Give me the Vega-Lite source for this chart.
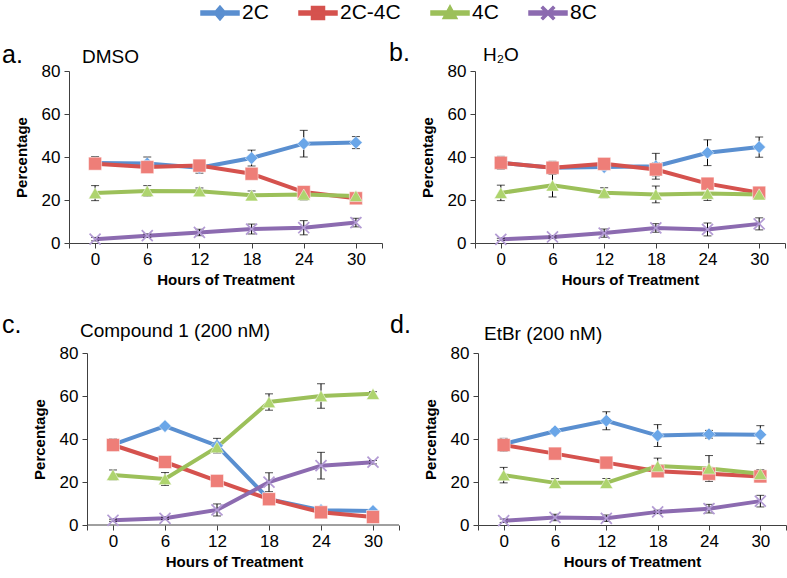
{
  "$schema": "https://vega.github.io/schema/vega-lite/v6.json",
  "background": "white",
  "padding": {"left": 2, "top": 2, "right": 2, "bottom": 2},
  "config": {
    "view": {"stroke": null},
    "font": "Liberation Sans",
    "axis": {
      "grid": false,
      "domainColor": "#404040",
      "tickColor": "#404040",
      "tickSize": 5,
      "labelFont": "Liberation Sans",
      "labelFontSize": 17,
      "labelColor": "#000000",
      "titleFont": "Liberation Sans",
      "titleFontSize": 15,
      "titleFontWeight": "bold",
      "titleColor": "#000000"
    },
    "axisX": {"titlePadding": 5, "labelPadding": 3},
    "axisY": {"titlePadding": 12, "labelPadding": 4}
  },
  "datasets": {
    "cells": [
      {"panel": "a", "series": "2C", "hour": 0, "value": 37.2, "err": 3},
      {"panel": "a", "series": "2C", "hour": 6, "value": 37.0, "err": 3},
      {"panel": "a", "series": "2C", "hour": 12, "value": 35.0, "err": 2.5},
      {"panel": "a", "series": "2C", "hour": 18, "value": 39.5, "err": 3.7},
      {"panel": "a", "series": "2C", "hour": 24, "value": 46.2, "err": 6.2},
      {"panel": "a", "series": "2C", "hour": 30, "value": 46.7, "err": 2.8},
      {"panel": "a", "series": "2C-4C", "hour": 0, "value": 36.9, "err": 2},
      {"panel": "a", "series": "2C-4C", "hour": 6, "value": 35.3, "err": 1.5},
      {"panel": "a", "series": "2C-4C", "hour": 12, "value": 36.0, "err": 2},
      {"panel": "a", "series": "2C-4C", "hour": 18, "value": 32.2, "err": 1.5},
      {"panel": "a", "series": "2C-4C", "hour": 24, "value": 23.7, "err": 1.5},
      {"panel": "a", "series": "2C-4C", "hour": 30, "value": 20.8, "err": 1.5},
      {"panel": "a", "series": "4C", "hour": 0, "value": 23.2, "err": 3.5},
      {"panel": "a", "series": "4C", "hour": 6, "value": 24.2, "err": 2.5},
      {"panel": "a", "series": "4C", "hour": 12, "value": 24.1, "err": 1.5},
      {"panel": "a", "series": "4C", "hour": 18, "value": 22.2, "err": 2},
      {"panel": "a", "series": "4C", "hour": 24, "value": 22.5, "err": 2.5},
      {"panel": "a", "series": "4C", "hour": 30, "value": 21.9, "err": 1.5},
      {"panel": "a", "series": "8C", "hour": 0, "value": 1.8, "err": 0.8},
      {"panel": "a", "series": "8C", "hour": 6, "value": 3.4, "err": 0.8},
      {"panel": "a", "series": "8C", "hour": 12, "value": 4.9, "err": 1.5},
      {"panel": "a", "series": "8C", "hour": 18, "value": 6.5, "err": 2.3},
      {"panel": "a", "series": "8C", "hour": 24, "value": 7.1, "err": 3.3},
      {"panel": "a", "series": "8C", "hour": 30, "value": 9.5, "err": 2},
      {"panel": "b", "series": "2C", "hour": 0, "value": 37.3, "err": 3},
      {"panel": "b", "series": "2C", "hour": 6, "value": 35.0, "err": 3},
      {"panel": "b", "series": "2C", "hour": 12, "value": 35.3, "err": 1},
      {"panel": "b", "series": "2C", "hour": 18, "value": 35.7, "err": 6},
      {"panel": "b", "series": "2C", "hour": 24, "value": 42.0, "err": 6},
      {"panel": "b", "series": "2C", "hour": 30, "value": 44.6, "err": 4.7},
      {"panel": "b", "series": "2C-4C", "hour": 0, "value": 37.3, "err": 2},
      {"panel": "b", "series": "2C-4C", "hour": 6, "value": 35.0, "err": 2},
      {"panel": "b", "series": "2C-4C", "hour": 12, "value": 36.8, "err": 1.5},
      {"panel": "b", "series": "2C-4C", "hour": 18, "value": 34.2, "err": 3},
      {"panel": "b", "series": "2C-4C", "hour": 24, "value": 27.6, "err": 1.5},
      {"panel": "b", "series": "2C-4C", "hour": 30, "value": 23.4, "err": 1},
      {"panel": "b", "series": "4C", "hour": 0, "value": 23.3, "err": 3.6},
      {"panel": "b", "series": "4C", "hour": 6, "value": 26.8, "err": 5.4},
      {"panel": "b", "series": "4C", "hour": 12, "value": 23.4, "err": 2.3},
      {"panel": "b", "series": "4C", "hour": 18, "value": 22.6, "err": 3.9},
      {"panel": "b", "series": "4C", "hour": 24, "value": 23.0, "err": 3.2},
      {"panel": "b", "series": "4C", "hour": 30, "value": 22.6, "err": 1},
      {"panel": "b", "series": "8C", "hour": 0, "value": 1.7, "err": 0.5},
      {"panel": "b", "series": "8C", "hour": 6, "value": 2.8, "err": 0.5},
      {"panel": "b", "series": "8C", "hour": 12, "value": 4.6, "err": 1.9},
      {"panel": "b", "series": "8C", "hour": 18, "value": 7.0, "err": 2},
      {"panel": "b", "series": "8C", "hour": 24, "value": 6.3, "err": 3},
      {"panel": "b", "series": "8C", "hour": 30, "value": 8.9, "err": 2.8},
      {"panel": "c", "series": "2C", "hour": 0, "value": 37.4, "err": 2.8},
      {"panel": "c", "series": "2C", "hour": 6, "value": 46.0, "err": 0.8},
      {"panel": "c", "series": "2C", "hour": 12, "value": 36.9, "err": 3.4},
      {"panel": "c", "series": "2C", "hour": 18, "value": 12.0, "err": 1},
      {"panel": "c", "series": "2C", "hour": 24, "value": 6.9, "err": 1},
      {"panel": "c", "series": "2C", "hour": 30, "value": 6.5, "err": 0.5},
      {"panel": "c", "series": "2C-4C", "hour": 0, "value": 37.2, "err": 2},
      {"panel": "c", "series": "2C-4C", "hour": 6, "value": 29.3, "err": 1.5},
      {"panel": "c", "series": "2C-4C", "hour": 12, "value": 20.5, "err": 1},
      {"panel": "c", "series": "2C-4C", "hour": 18, "value": 12.0, "err": 1},
      {"panel": "c", "series": "2C-4C", "hour": 24, "value": 5.9, "err": 1},
      {"panel": "c", "series": "2C-4C", "hour": 30, "value": 3.7, "err": 0.5},
      {"panel": "c", "series": "4C", "hour": 0, "value": 23.3, "err": 2.3},
      {"panel": "c", "series": "4C", "hour": 6, "value": 21.4, "err": 3},
      {"panel": "c", "series": "4C", "hour": 12, "value": 36.2, "err": 2},
      {"panel": "c", "series": "4C", "hour": 18, "value": 57.2, "err": 3.8},
      {"panel": "c", "series": "4C", "hour": 24, "value": 60.0, "err": 5.7},
      {"panel": "c", "series": "4C", "hour": 30, "value": 61.0, "err": 1},
      {"panel": "c", "series": "8C", "hour": 0, "value": 2.2, "err": 0.5},
      {"panel": "c", "series": "8C", "hour": 6, "value": 3.1, "err": 0.5},
      {"panel": "c", "series": "8C", "hour": 12, "value": 7.0, "err": 2.8},
      {"panel": "c", "series": "8C", "hour": 18, "value": 19.9, "err": 4.4},
      {"panel": "c", "series": "8C", "hour": 24, "value": 27.6, "err": 6.2},
      {"panel": "c", "series": "8C", "hour": 30, "value": 29.2, "err": 0.8},
      {"panel": "d", "series": "2C", "hour": 0, "value": 37.7, "err": 2.6},
      {"panel": "d", "series": "2C", "hour": 6, "value": 43.6, "err": 1},
      {"panel": "d", "series": "2C", "hour": 12, "value": 48.5, "err": 4.2},
      {"panel": "d", "series": "2C", "hour": 18, "value": 41.6, "err": 5.1},
      {"panel": "d", "series": "2C", "hour": 24, "value": 42.2, "err": 1.8},
      {"panel": "d", "series": "2C", "hour": 30, "value": 42.0, "err": 4.2},
      {"panel": "d", "series": "2C-4C", "hour": 0, "value": 37.2, "err": 3},
      {"panel": "d", "series": "2C-4C", "hour": 6, "value": 33.2, "err": 2.3},
      {"panel": "d", "series": "2C-4C", "hour": 12, "value": 29.0, "err": 1.5},
      {"panel": "d", "series": "2C-4C", "hour": 18, "value": 25.0, "err": 1},
      {"panel": "d", "series": "2C-4C", "hour": 24, "value": 23.8, "err": 2.5},
      {"panel": "d", "series": "2C-4C", "hour": 30, "value": 22.6, "err": 2.5},
      {"panel": "d", "series": "4C", "hour": 0, "value": 23.2, "err": 3.6},
      {"panel": "d", "series": "4C", "hour": 6, "value": 19.6, "err": 2},
      {"panel": "d", "series": "4C", "hour": 12, "value": 19.6, "err": 2},
      {"panel": "d", "series": "4C", "hour": 18, "value": 27.4, "err": 3.7},
      {"panel": "d", "series": "4C", "hour": 24, "value": 26.3, "err": 6},
      {"panel": "d", "series": "4C", "hour": 30, "value": 23.8, "err": 2},
      {"panel": "d", "series": "8C", "hour": 0, "value": 2.0, "err": 0.8},
      {"panel": "d", "series": "8C", "hour": 6, "value": 3.5, "err": 1.5},
      {"panel": "d", "series": "8C", "hour": 12, "value": 3.1, "err": 1.5},
      {"panel": "d", "series": "8C", "hour": 18, "value": 6.1, "err": 0.8},
      {"panel": "d", "series": "8C", "hour": 24, "value": 7.6, "err": 2},
      {"panel": "d", "series": "8C", "hour": 30, "value": 11.1, "err": 2.7}
    ]
  },
  "vconcat": [
    {
      "hconcat": [
        {
          "width": 313, "height": 172,
          "data": {"name": "cells"},
          "transform": [{"filter": "datum.panel === 'a'"}],
          "encoding": {
            "x": {"field": "hour", "type": "quantitative", "scale": {"domain": [-3, 33], "nice": false, "zero": false},
                  "axis": {"title": "Hours of Treatment", "values": [-3, 0, 6, 12, 18, 24, 30, 33], "labelExpr": "datum.value < 0 || datum.value > 30 ? '' : datum.label"}},
            "y": {"field": "value", "type": "quantitative", "scale": {"domain": [0, 80], "nice": false}, "axis": {"title": "Percentage", "values": [0, 20, 40, 60, 80]}}
          },
          "layer": [
            {"mark": {"type": "line", "strokeWidth": 4}, "encoding": {"color": {"field": "series", "type": "nominal",
              "scale": {"domain": ["2C", "2C-4C", "4C", "8C"], "range": ["#5A8FD0", "#D5524E", "#9CC05A", "#8C6BB0"]},
              "legend": {"orient": "none", "legendX": 131, "legendY": -69, "direction": "horizontal", "title": null,
                "labelFontSize": 21, "labelFont": "Liberation Sans", "labelColor": "#000000", "symbolSize": 400, "labelOffset": 20, "columnPadding": 27, "symbolOpacity": 1}}}},
            {"mark": {"type": "errorbar", "ticks": {"size": 8, "color": "#000000"}, "rule": {"color": "#000000", "strokeWidth": 1}}, "encoding": {"yError": {"field": "err"}}},
            {"transform": [{"filter": "datum.series === '2C'"}], "mark": {"type": "point", "shape": "diamond", "filled": true, "size": 160, "fill": "#6AA6E8", "opacity": 1, "stroke": "#ffffff", "strokeOpacity": 0.5, "strokeWidth": 1}},
            {"transform": [{"filter": "datum.series === '2C-4C'"}], "mark": {"type": "point", "shape": "square", "filled": true, "size": 170, "fill": "#EE7E78", "opacity": 1, "stroke": "#ffffff", "strokeOpacity": 0.5, "strokeWidth": 1}},
            {"transform": [{"filter": "datum.series === '4C'"}], "mark": {"type": "point", "shape": "triangle-up", "filled": true, "size": 170, "fill": "#AED46E", "opacity": 1, "stroke": "#ffffff", "strokeOpacity": 0.5, "strokeWidth": 1}},
            {"transform": [{"filter": "datum.series === '8C'"}], "mark": {"type": "point", "shape": "M-1,-0.8L-0.8,-1L0,-0.2L0.8,-1L1,-0.8L0.2,0L1,0.8L0.8,1L0,0.2L-0.8,1L-1,0.8L-0.2,0Z", "filled": true, "size": 150, "fill": "#B39BD4", "opacity": 1}},
            {"transform": [{"filter": "datum.hour === 0"}], "mark": {"type": "point", "filled": true, "opacity": 0},
             "encoding": {
               "shape": {"field": "series", "type": "nominal",
                 "scale": {"domain": ["2C", "2C-4C", "4C", "8C"], "range": [
                   "M-1,-0.2H2.8V0.2H-1Z M0.9,-0.7L1.5,0L0.9,0.7L0.3,0Z",
                   "M-1,-0.2H2.8V0.2H-1Z M0.25,-0.65H1.55V0.65H0.25Z",
                   "M-1,-0.2H2.8V0.2H-1Z M0.9,-0.75L1.6,0.55H0.2Z",
                   "M-1,-0.2H2.8V0.2H-1Z M0.25,-0.5L0.4,-0.65L0.9,-0.15L1.4,-0.65L1.55,-0.5L1.05,0L1.55,0.5L1.4,0.65L0.9,0.15L0.4,0.65L0.25,0.5L0.75,0Z"]},
                 "legend": null},
               "fill": {"field": "series", "type": "nominal",
                 "scale": {"domain": ["2C", "2C-4C", "4C", "8C"], "range": ["#5A8FD0", "#D5524E", "#9CC05A", "#8C6BB0"]},
                 "legend": null}
             }},
            {"transform": [{"filter": "datum.series === '2C' && datum.hour === 0"}], "mark": {"type": "text", "align": "left", "baseline": "alphabetic", "fontSize": 25, "dx": -67, "dy": -8, "clip": false, "color": "#000000"},
             "encoding": {"x": {"datum": -3}, "y": {"datum": 80}, "text": {"value": "a."}}},
            {"transform": [{"filter": "datum.series === '2C' && datum.hour === 0"}], "mark": {"type": "text", "align": "left", "baseline": "alphabetic", "fontSize": 19, "dx": 13, "dy": -8, "clip": false, "color": "#000000"},
             "encoding": {"x": {"datum": -3}, "y": {"datum": 80}, "text": {"value": "DMSO"}}}
          ]
        },
        {
          "width": 310, "height": 172,
          "data": {"name": "cells"},
          "transform": [{"filter": "datum.panel === 'b'"}],
          "encoding": {
            "x": {"field": "hour", "type": "quantitative", "scale": {"domain": [-3, 33], "nice": false, "zero": false},
                  "axis": {"title": "Hours of Treatment", "values": [-3, 0, 6, 12, 18, 24, 30, 33], "labelExpr": "datum.value < 0 || datum.value > 30 ? '' : datum.label"}},
            "y": {"field": "value", "type": "quantitative", "scale": {"domain": [0, 80], "nice": false}, "axis": {"title": "Percentage", "values": [0, 20, 40, 60, 80]}}
          },
          "layer": [
            {"mark": {"type": "line", "strokeWidth": 4}, "encoding": {"color": {"field": "series", "type": "nominal"}}},
            {"mark": {"type": "errorbar", "ticks": {"size": 8, "color": "#000000"}, "rule": {"color": "#000000", "strokeWidth": 1}}, "encoding": {"yError": {"field": "err"}}},
            {"transform": [{"filter": "datum.series === '2C'"}], "mark": {"type": "point", "shape": "diamond", "filled": true, "size": 160, "fill": "#6AA6E8", "opacity": 1, "stroke": "#ffffff", "strokeOpacity": 0.5, "strokeWidth": 1}},
            {"transform": [{"filter": "datum.series === '2C-4C'"}], "mark": {"type": "point", "shape": "square", "filled": true, "size": 170, "fill": "#EE7E78", "opacity": 1, "stroke": "#ffffff", "strokeOpacity": 0.5, "strokeWidth": 1}},
            {"transform": [{"filter": "datum.series === '4C'"}], "mark": {"type": "point", "shape": "triangle-up", "filled": true, "size": 170, "fill": "#AED46E", "opacity": 1, "stroke": "#ffffff", "strokeOpacity": 0.5, "strokeWidth": 1}},
            {"transform": [{"filter": "datum.series === '8C'"}], "mark": {"type": "point", "shape": "M-1,-0.8L-0.8,-1L0,-0.2L0.8,-1L1,-0.8L0.2,0L1,0.8L0.8,1L0,0.2L-0.8,1L-1,0.8L-0.2,0Z", "filled": true, "size": 150, "fill": "#B39BD4", "opacity": 1}},
            {"transform": [{"filter": "datum.series === '2C' && datum.hour === 0"}], "mark": {"type": "text", "align": "left", "baseline": "alphabetic", "fontSize": 25, "dx": -86, "dy": -10, "clip": false, "color": "#000000"},
             "encoding": {"x": {"datum": -3}, "y": {"datum": 80}, "text": {"value": "b."}}},
            {"transform": [{"filter": "datum.series === '2C' && datum.hour === 0"}], "mark": {"type": "text", "align": "left", "baseline": "alphabetic", "fontSize": 19, "dx": 8, "dy": -10, "clip": false, "color": "#000000"},
             "encoding": {"x": {"datum": -3}, "y": {"datum": 80}, "text": {"value": "H₂O"}}}
          ]
        }
      ],
      "spacing": 6,
      "align": "none"
    },
    {
      "hconcat": [
        {
          "width": 330, "height": 172,
          "data": {"name": "cells"},
          "transform": [{"filter": "datum.panel === 'c'"}],
          "encoding": {
            "x": {"field": "hour", "type": "quantitative", "scale": {"domain": [-5.077, 33], "nice": false, "zero": false},
                  "axis": {"title": "Hours of Treatment", "domain": false, "values": [-3, 0, 6, 12, 18, 24, 30, 33], "labelExpr": "datum.value < 0 || datum.value > 30 ? '' : datum.label"}},
            "y": {"field": "value", "type": "quantitative", "scale": {"domain": [0, 80], "nice": false}, "axis": {"title": "Percentage", "offset": -18, "values": [0, 20, 40, 60, 80]}}
          },
          "layer": [
            {"transform": [{"filter": "datum.series === '2C' && datum.hour === 0"}], "mark": {"type": "rule", "color": "#404040", "strokeWidth": 1},
             "encoding": {"x": {"datum": -3}, "x2": {"datum": 33}, "y": {"datum": 0}}},
            {"mark": {"type": "line", "strokeWidth": 4}, "encoding": {"color": {"field": "series", "type": "nominal"}}},
            {"mark": {"type": "errorbar", "ticks": {"size": 8, "color": "#000000"}, "rule": {"color": "#000000", "strokeWidth": 1}}, "encoding": {"yError": {"field": "err"}}},
            {"transform": [{"filter": "datum.series === '2C'"}], "mark": {"type": "point", "shape": "diamond", "filled": true, "size": 160, "fill": "#6AA6E8", "opacity": 1, "stroke": "#ffffff", "strokeOpacity": 0.5, "strokeWidth": 1}},
            {"transform": [{"filter": "datum.series === '2C-4C'"}], "mark": {"type": "point", "shape": "square", "filled": true, "size": 170, "fill": "#EE7E78", "opacity": 1, "stroke": "#ffffff", "strokeOpacity": 0.5, "strokeWidth": 1}},
            {"transform": [{"filter": "datum.series === '4C'"}], "mark": {"type": "point", "shape": "triangle-up", "filled": true, "size": 170, "fill": "#AED46E", "opacity": 1, "stroke": "#ffffff", "strokeOpacity": 0.5, "strokeWidth": 1}},
            {"transform": [{"filter": "datum.series === '8C'"}], "mark": {"type": "point", "shape": "M-1,-0.8L-0.8,-1L0,-0.2L0.8,-1L1,-0.8L0.2,0L1,0.8L0.8,1L0,0.2L-0.8,1L-1,0.8L-0.2,0Z", "filled": true, "size": 150, "fill": "#B39BD4", "opacity": 1}},
            {"transform": [{"filter": "datum.series === '2C' && datum.hour === 0"}], "mark": {"type": "text", "align": "left", "baseline": "alphabetic", "fontSize": 25, "dx": -85, "dy": -20, "clip": false, "color": "#000000"},
             "encoding": {"x": {"datum": -3}, "y": {"datum": 80}, "text": {"value": "c."}}},
            {"transform": [{"filter": "datum.series === '2C' && datum.hour === 0"}], "mark": {"type": "text", "align": "left", "baseline": "alphabetic", "fontSize": 19, "dx": -7, "dy": -16, "clip": false, "color": "#000000"},
             "encoding": {"x": {"datum": -3}, "y": {"datum": 80}, "text": {"value": "Compound 1 (200 nM)"}}}
          ]
        },
        {
          "width": 308, "height": 172,
          "data": {"name": "cells"},
          "transform": [{"filter": "datum.panel === 'd'"}],
          "encoding": {
            "x": {"field": "hour", "type": "quantitative", "scale": {"domain": [-3, 33], "nice": false, "zero": false},
                  "axis": {"title": "Hours of Treatment", "values": [-3, 0, 6, 12, 18, 24, 30, 33], "labelExpr": "datum.value < 0 || datum.value > 30 ? '' : datum.label"}},
            "y": {"field": "value", "type": "quantitative", "scale": {"domain": [0, 80], "nice": false}, "axis": {"title": "Percentage", "values": [0, 20, 40, 60, 80]}}
          },
          "layer": [
            {"mark": {"type": "line", "strokeWidth": 4}, "encoding": {"color": {"field": "series", "type": "nominal"}}},
            {"mark": {"type": "errorbar", "ticks": {"size": 8, "color": "#000000"}, "rule": {"color": "#000000", "strokeWidth": 1}}, "encoding": {"yError": {"field": "err"}}},
            {"transform": [{"filter": "datum.series === '2C'"}], "mark": {"type": "point", "shape": "diamond", "filled": true, "size": 160, "fill": "#6AA6E8", "opacity": 1, "stroke": "#ffffff", "strokeOpacity": 0.5, "strokeWidth": 1}},
            {"transform": [{"filter": "datum.series === '2C-4C'"}], "mark": {"type": "point", "shape": "square", "filled": true, "size": 170, "fill": "#EE7E78", "opacity": 1, "stroke": "#ffffff", "strokeOpacity": 0.5, "strokeWidth": 1}},
            {"transform": [{"filter": "datum.series === '4C'"}], "mark": {"type": "point", "shape": "triangle-up", "filled": true, "size": 170, "fill": "#AED46E", "opacity": 1, "stroke": "#ffffff", "strokeOpacity": 0.5, "strokeWidth": 1}},
            {"transform": [{"filter": "datum.series === '8C'"}], "mark": {"type": "point", "shape": "M-1,-0.8L-0.8,-1L0,-0.2L0.8,-1L1,-0.8L0.2,0L1,0.8L0.8,1L0,0.2L-0.8,1L-1,0.8L-0.2,0Z", "filled": true, "size": 150, "fill": "#B39BD4", "opacity": 1}},
            {"transform": [{"filter": "datum.series === '2C' && datum.hour === 0"}], "mark": {"type": "text", "align": "left", "baseline": "alphabetic", "fontSize": 25, "dx": -88, "dy": -20, "clip": false, "color": "#000000"},
             "encoding": {"x": {"datum": -3}, "y": {"datum": 80}, "text": {"value": "d."}}},
            {"transform": [{"filter": "datum.series === '2C' && datum.hour === 0"}], "mark": {"type": "text", "align": "left", "baseline": "alphabetic", "fontSize": 19, "dx": 6, "dy": -13, "clip": false, "color": "#000000"},
             "encoding": {"x": {"datum": -3}, "y": {"datum": 80}, "text": {"value": "EtBr (200 nM)"}}}
          ]
        }
      ],
      "spacing": -10,
      "align": "none"
    }
  ],
  "spacing": 26,
  "align": "none"
}
